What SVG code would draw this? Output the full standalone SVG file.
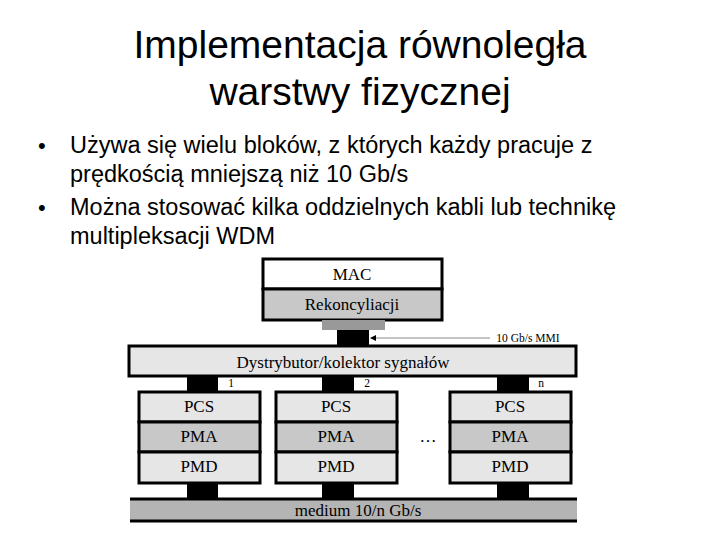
<svg xmlns="http://www.w3.org/2000/svg" width="720" height="540" viewBox="0 0 720 540">
<style>
.t{font-family:"Liberation Sans",Arial,sans-serif;fill:#000}
.s{font-family:"Liberation Serif","Times New Roman",serif;fill:#000;text-anchor:middle}
.b{stroke:#000;stroke-width:3}
.k{fill:#000}
</style>
<defs><marker id="a" markerWidth="6" markerHeight="6" refX="5" refY="3" orient="auto"><path d="M0,0L6,3L0,6z" fill="#000"/></marker></defs>
<rect width="720" height="540" fill="#fff"/>
<text class="t" x="360" y="58" font-size="39" text-anchor="middle">Implementacja równoległa</text>
<text class="t" x="360" y="105" font-size="39" text-anchor="middle">warstwy fizycznej</text>
<g>
<text class="t" x="38" y="153" font-size="22">•</text><text class="t" x="70" y="153" font-size="23.5">Używa się wielu bloków, z których każdy pracuje z</text>
<text class="t" x="70" y="182" font-size="23.5">prędkością mniejszą niż 10 Gb/s</text>
<text class="t" x="38" y="215" font-size="22">•</text><text class="t" x="70" y="215" font-size="23.5">Można stosować kilka oddzielnych kabli lub technikę</text>
<text class="t" x="70" y="244" font-size="23.5">multipleksacji WDM</text>
</g>
<g id="mac"><rect x="263" y="259" width="179" height="30" fill="#fff" class="b"/><text class="s" x="352" y="280" font-size="17">MAC</text></g>
<g id="rek"><rect x="263" y="289" width="179" height="31" fill="#c8c8c8" class="b"/><text class="s" x="352" y="310" font-size="17">Rekoncyliacji</text></g>
<g id="mmi"><rect x="322" y="320" width="63" height="10" fill="#999"/><rect x="337" y="330" width="32" height="15" class="k"/><text class="s" x="528" y="342" font-size="11.5">10 Gb/s MMI</text></g>
<g id="dys"><rect x="129" y="346" width="447" height="30" fill="#e6e6e6" class="b"/><text class="s" x="343" y="368" font-size="17">Dystrybutor/kolektor sygnałów</text></g>
<g id="links">
<rect x="187" y="376" width="31" height="16" class="k"/><rect x="322" y="376" width="32" height="16" class="k"/><rect x="497" y="376" width="32" height="16" class="k"/>
<text class="s" x="231" y="387" font-size="11.5">1</text><text class="s" x="367" y="387" font-size="11.5">2</text><text class="s" x="541" y="387" font-size="11.5">n</text>
<rect x="187" y="483" width="31" height="16" class="k"/><rect x="322" y="483" width="32" height="16" class="k"/><rect x="497" y="483" width="32" height="16" class="k"/>
</g>
<g id="conn"><line x1="490" y1="338" x2="371" y2="338" stroke="#888" stroke-width="1" marker-end="url(#a)"/></g>
<g id="stack1">
<rect x="139" y="392" width="121" height="30" fill="#e6e6e6" class="b"/><rect x="139" y="422" width="121" height="30" fill="#c8c8c8" class="b"/><rect x="139" y="452" width="121" height="31" fill="#e6e6e6" class="b"/>
<text class="s" x="199" y="412" font-size="17">PCS</text><text class="s" x="199" y="442" font-size="17">PMA</text><text class="s" x="199" y="472" font-size="17">PMD</text></g>
<g id="stack2">
<rect x="276" y="392" width="121" height="30" fill="#e6e6e6" class="b"/><rect x="276" y="422" width="121" height="30" fill="#c8c8c8" class="b"/><rect x="276" y="452" width="121" height="31" fill="#e6e6e6" class="b"/>
<text class="s" x="336" y="412" font-size="17">PCS</text><text class="s" x="336" y="442" font-size="17">PMA</text><text class="s" x="336" y="472" font-size="17">PMD</text></g>
<g id="stackn">
<rect x="450" y="392" width="121" height="30" fill="#e6e6e6" class="b"/><rect x="450" y="422" width="121" height="30" fill="#c8c8c8" class="b"/><rect x="450" y="452" width="121" height="31" fill="#e6e6e6" class="b"/>
<text class="s" x="510" y="412" font-size="17">PCS</text><text class="s" x="510" y="442" font-size="17">PMA</text><text class="s" x="510" y="472" font-size="17">PMD</text></g>
<text class="s" x="428" y="442" font-size="17">…</text>
<g id="medium"><rect x="130" y="499" width="447" height="22" fill="#b4b4b4"/><line x1="130" y1="499" x2="577" y2="499" stroke="#000" stroke-width="3"/><line x1="130" y1="521" x2="577" y2="521" stroke="#000" stroke-width="3"/><text class="s" x="358" y="516" font-size="17">medium 10/n Gb/s</text></g>
</svg>
